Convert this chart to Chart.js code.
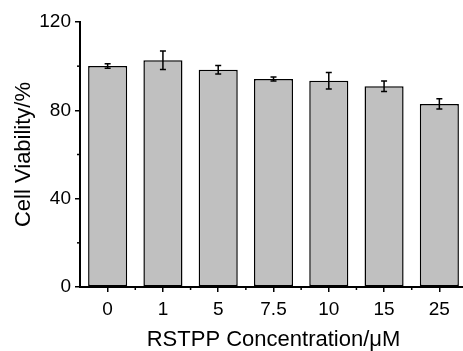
<!DOCTYPE html>
<html>
<head>
<meta charset="utf-8">
<script src="https://cdn.jsdelivr.net/npm/chart.js@4/dist/chart.umd.min.js"></script>
<style>
  html, body { margin: 0; padding: 0; background: #fff; overflow: hidden; }
  #wrap { width: 467px; height: 351px; }
</style>
</head>
<body>
<div id="wrap"><canvas id="c" width="467" height="351"></canvas></div>
<script>
// concentrations (µM) and viability (%)
const categories = ['0', '1', '5', '7.5', '10', '15', '25'];
const viability = [100.1, 102.7, 98.4, 94.2, 93.4, 90.9, 82.9];
const errors = [1.0, 4.2, 1.9, 0.9, 3.7, 2.4, 2.3];
const yMinorTicks = [20, 60, 100];

const FONT = 'Liberation Sans, Arial, sans-serif';

// error bars + minor ticks, positioned through the chart's own scales
const extrasPlugin = {
  id: 'extras',
  afterDatasetsDraw(chart) {
    const ctx = chart.ctx;
    const y = chart.scales.y;
    const x = chart.scales.x;
    const bars = chart.getDatasetMeta(0).data;
    ctx.save();
    ctx.strokeStyle = '#000';
    ctx.lineWidth = 1.5;
    bars.forEach((bar, i) => {
      const top = y.getPixelForValue(viability[i] + errors[i]);
      const bot = y.getPixelForValue(viability[i] - errors[i]);
      ctx.beginPath();
      ctx.moveTo(bar.x, top); ctx.lineTo(bar.x, bot);
      ctx.moveTo(bar.x - 3, top); ctx.lineTo(bar.x + 3, top);
      ctx.moveTo(bar.x - 3, bot); ctx.lineTo(bar.x + 3, bot);
      ctx.stroke();
    });
    // minor ticks
    yMinorTicks.forEach(v => {
      const py = y.getPixelForValue(v);
      ctx.beginPath();
      ctx.moveTo(chart.chartArea.left, py);
      ctx.lineTo(chart.chartArea.left - 3, py);
      ctx.stroke();
    });
    for (let i = 0; i < categories.length - 1; i++) {
      const px = (x.getPixelForValue(i) + x.getPixelForValue(i + 1)) / 2;
      ctx.beginPath();
      ctx.moveTo(px, chart.chartArea.bottom);
      ctx.lineTo(px, chart.chartArea.bottom + 3);
      ctx.stroke();
    }
    ctx.restore();
  },
};

new Chart(document.getElementById('c'), {
  type: 'bar',
  data: {
    labels: categories,
    datasets: [{
      data: viability,
      backgroundColor: '#c0c0c0',
      borderColor: '#000',
      borderWidth: 1.5,
      borderSkipped: false,
      categoryPercentage: 1,
      barPercentage: 0.707,
    }],
  },
  options: {
    responsive: false,
    animation: false,
    layout: { padding: { top: 22, right: 0, bottom: 0, left: 0 } },
    plugins: { legend: { display: false }, tooltip: { enabled: false } },
    scales: {
      x: {
        grid: { display: true, drawOnChartArea: false, offset: false, tickLength: 5, color: '#000', lineWidth: 1.5 },
        border: { display: true, color: '#000', width: 2 },
        ticks: { color: '#000', font: { family: FONT, size: 19 }, padding: 6, maxRotation: 0 },
        title: {
          display: true, text: 'RSTPP Concentration/μM', color: '#000',
          font: { family: FONT, size: 22, lineHeight: 1 }, padding: { top: 0, bottom: 0 },
        },
        afterFit: (s) => { s.height = 64; },
      },
      y: {
        min: 0, max: 120,
        grid: { display: true, drawOnChartArea: false, tickLength: 5, color: '#000', lineWidth: 1.5 },
        border: { display: true, color: '#000', width: 2 },
        ticks: { stepSize: 40, color: '#000', font: { family: FONT, size: 19 }, padding: 4 },
        title: {
          display: true, text: 'Cell Viability/%', color: '#000',
          font: { family: FONT, size: 22, lineHeight: 1 }, padding: { top: 13, bottom: 0 },
        },
        afterFit: (s) => { s.width = 80; },
      },
    },
  },
  plugins: [extrasPlugin],
});
</script>
</body>
</html>
